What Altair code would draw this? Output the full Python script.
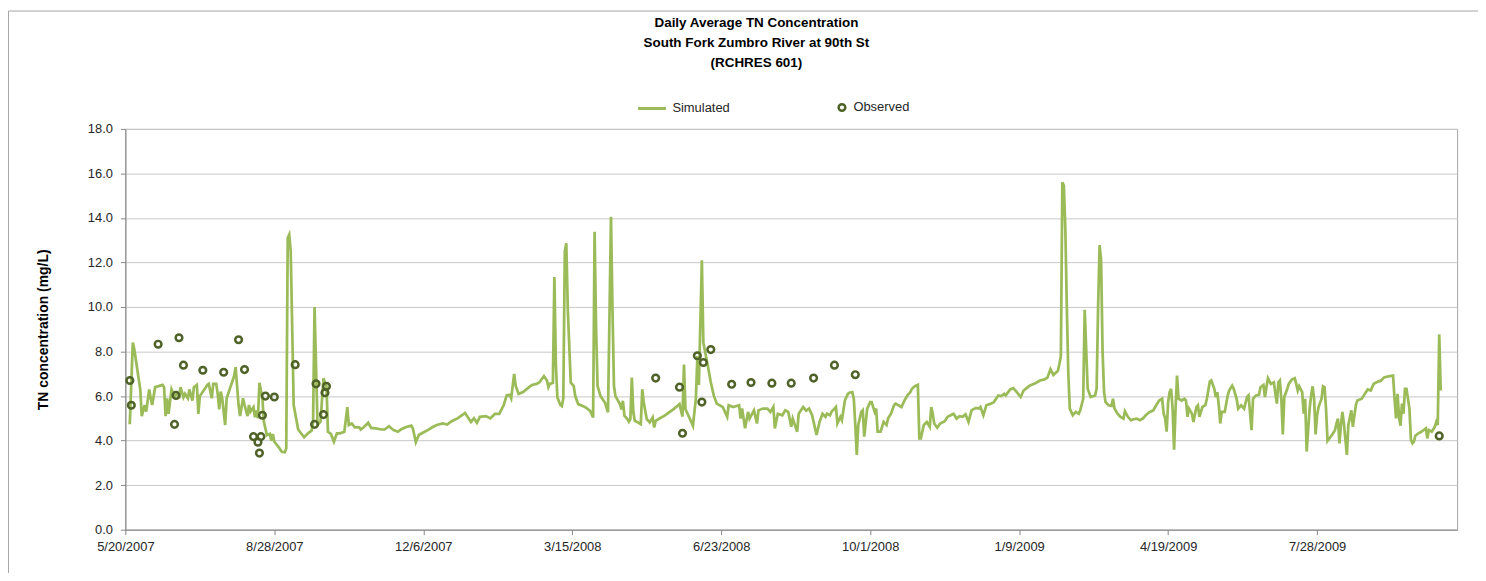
import altair as alt
import pandas as pd

# ---------------- data ----------------
START = "2007-05-20"

# (days after 5/20/2007, TN mg/L)
simulated = [
    (2, 4.8), (3, 4.8), (5, 8.4), (6, 8.1), (8, 7.2), (10, 6.3), (11, 5.1), (13, 5.6), (14, 5.3), (16, 6.3),
    (17, 5.9), (18, 5.6), (20, 6.4), (25, 6.5), (26, 6.4), (27, 5.1), (28, 5.9), (29, 5.2), (31, 6.3), (33, 6.0),
    (35, 6.1), (36, 5.9), (37, 6.4), (39, 5.95), (40, 6.1), (42, 5.9), (43, 6.3), (45, 5.8), (46, 6.4), (48, 6.5),
    (49, 5.2), (50, 6.0), (53, 6.3), (55, 6.5), (56, 6.55), (58, 5.9), (59, 6.55), (61, 6.55), (62, 6.1), (63, 5.4),
    (64, 6.2), (65, 5.9), (67, 4.7), (68, 5.9), (70, 6.3), (73, 6.9), (74, 7.3), (76, 5.6), (77, 5.1), (79, 5.9),
    (80, 5.6), (82, 5.1), (83, 5.6), (84, 5.3), (86, 5.5), (87, 5.05), (88, 5.35), (89, 5.0), (90, 6.6), (92, 5.9),
    (93, 4.85), (94, 4.55), (95, 4.25), (97, 4.3), (98, 4.0), (99, 4.3), (100, 3.95), (103, 3.7), (105, 3.5), (107, 3.48),
    (108, 3.65), (109, 13.1), (110, 13.25), (111, 12.5), (113, 5.6), (116, 4.5), (120, 4.15), (123, 4.35), (125, 4.45), (126, 4.8),
    (127, 10.0), (129, 4.7), (131, 4.85), (133, 6.8), (134, 6.6), (135, 6.45), (136, 4.4), (138, 4.3), (140, 3.95), (142, 4.33),
    (144, 4.33), (147, 4.4), (149, 5.5), (150, 4.7), (152, 4.77), (154, 4.6), (157, 4.6), (158, 4.5), (160, 4.6), (163, 4.8),
    (165, 4.57), (168, 4.55), (172, 4.5), (174, 4.5), (177, 4.65), (180, 4.47), (183, 4.4), (185, 4.5), (188, 4.6), (192, 4.67),
    (193, 4.55), (195, 3.93), (197, 4.25), (199, 4.33), (203, 4.47), (206, 4.6), (209, 4.7), (213, 4.77), (216, 4.72), (219, 4.87),
    (223, 5.0), (226, 5.14), (228, 5.24), (232, 4.84), (234, 5.0), (236, 4.8), (238, 5.07), (242, 5.1), (245, 5.0), (248, 5.2),
    (251, 5.2), (254, 5.6), (256, 6.03), (258, 6.06), (259, 5.9), (261, 7.0), (262, 6.47), (264, 6.1), (267, 6.18), (271, 6.4),
    (273, 6.5), (276, 6.55), (278, 6.62), (281, 6.9), (283, 6.7), (284, 6.4), (285, 6.55), (287, 6.6), (288, 11.35), (289, 7.4),
    (290, 5.95), (292, 5.6), (293, 5.55), (294, 5.9), (295, 12.5), (296, 12.86), (297, 9.9), (299, 6.6), (301, 6.45), (302, 6.0),
    (304, 5.64), (307, 5.56), (309, 5.49), (312, 5.34), (314, 5.04), (315, 13.38), (316, 9.0), (317, 6.45), (319, 6.0), (322, 5.7),
    (324, 5.27), (326, 14.05), (327, 9.9), (328, 6.45), (329, 6.0), (332, 5.64), (333, 5.4), (334, 5.79), (335, 5.12), (337, 4.97),
    (338, 4.85), (339, 4.97), (340, 6.83), (341, 5.27), (342, 4.89), (344, 4.82), (346, 4.74), (347, 6.31), (348, 5.71), (350, 4.97),
    (352, 4.82), (354, 5.04), (355, 4.59), (356, 4.89), (358, 4.97), (362, 5.12), (365, 5.27), (368, 5.41), (372, 5.64), (374, 5.08),
    (375, 7.42), (376, 5.41), (378, 5.12), (381, 4.67), (383, 5.9), (384, 7.8), (385, 6.5), (387, 12.1), (388, 8.4), (391, 7.36),
    (393, 6.62), (395, 6.03), (397, 5.66), (401, 5.51), (404, 5.07), (405, 5.59), (408, 5.51), (412, 5.59), (413, 4.99), (414, 5.44),
    (416, 4.55), (418, 5.29), (419, 4.99), (422, 5.36), (424, 4.77), (425, 5.36), (428, 5.44), (431, 5.44), (433, 5.29), (435, 5.51),
    (436, 4.55), (438, 5.21), (441, 5.14), (443, 5.36), (445, 5.29), (447, 4.62), (448, 4.99), (451, 4.4), (452, 5.21), (455, 5.51),
    (457, 5.35), (459, 5.44), (461, 5.14), (464, 4.25), (466, 4.84), (468, 5.21), (470, 5.07), (471, 5.21), (473, 5.14), (474, 5.29),
    (477, 5.51), (478, 4.77), (480, 5.07), (481, 4.92), (483, 5.8), (485, 6.1), (486, 6.15), (488, 6.18), (489, 5.88), (490, 4.7),
    (491, 3.36), (492, 4.7), (494, 5.29), (495, 5.36), (496, 4.18), (498, 5.44), (500, 5.73), (501, 5.73), (503, 5.29), (504, 5.44),
    (505, 4.4), (507, 4.4), (509, 4.84), (511, 4.7), (512, 5.0), (514, 5.21), (516, 5.59), (517, 5.66), (519, 5.59), (521, 5.51),
    (523, 5.8), (525, 6.03), (527, 6.18), (528, 6.33), (530, 6.44), (532, 6.5), (533, 4.1), (534, 4.1), (536, 4.7), (538, 4.84),
    (540, 4.62), (541, 5.51), (542, 5.21), (543, 4.77), (545, 4.58), (547, 4.77), (550, 4.87), (552, 5.07), (554, 5.14), (556, 5.21),
    (558, 4.99), (560, 5.1), (562, 5.07), (564, 5.18), (566, 4.84), (568, 5.36), (571, 5.47), (573, 5.44), (574, 5.51), (576, 5.14),
    (578, 5.59), (581, 5.66), (583, 5.73), (586, 6.03), (588, 6.0), (590, 6.1), (591, 6.03), (594, 6.3), (596, 6.36), (598, 6.21),
    (601, 5.96), (603, 6.25), (605, 6.36), (607, 6.47), (610, 6.55), (612, 6.62), (614, 6.7), (617, 6.75), (619, 6.83), (621, 7.21),
    (623, 6.95), (626, 7.14), (627, 7.44), (628, 7.8), (629, 15.6), (630, 15.45), (631, 13.5), (632, 10.0), (633, 7.0), (634, 5.44),
    (636, 5.14), (638, 5.29), (640, 5.21), (641, 5.36), (643, 5.88), (644, 9.88), (646, 6.33), (648, 5.96), (651, 6.03), (652, 6.33),
    (653, 10.0), (654, 12.78), (655, 12.1), (656, 8.0), (657, 6.18), (658, 5.73), (660, 5.59), (662, 5.56), (663, 5.88), (664, 5.44),
    (666, 5.21), (668, 5.07), (670, 4.99), (671, 5.32), (673, 5.07), (675, 4.92), (677, 4.96), (679, 4.99), (681, 4.92), (683, 4.99),
    (685, 5.14), (687, 5.26), (690, 5.36), (692, 5.59), (694, 5.8), (696, 5.88), (697, 5.21), (698, 5.0), (699, 4.4), (700, 5.73),
    (701, 6.18), (702, 6.33), (703, 5.44), (704, 3.59), (705, 5.44), (706, 6.92), (707, 5.88), (709, 5.8), (711, 5.88), (712, 5.8),
    (713, 5.07), (714, 5.44), (716, 5.21), (717, 4.84), (719, 5.51), (720, 5.59), (721, 5.07), (723, 5.51), (725, 5.59), (726, 5.88),
    (728, 6.65), (729, 6.7), (731, 6.33), (732, 5.96), (733, 6.18), (734, 5.59), (735, 4.77), (736, 5.29), (738, 5.29), (740, 6.03),
    (741, 6.25), (743, 6.47), (744, 6.33), (746, 5.88), (747, 5.44), (749, 5.59), (751, 5.44), (753, 5.96), (754, 6.03), (756, 4.47),
    (757, 5.88), (759, 6.03), (761, 6.06), (762, 6.4), (764, 6.5), (765, 5.96), (766, 6.4), (767, 6.8), (769, 6.55), (771, 6.62),
    (772, 6.1), (773, 5.66), (774, 6.62), (775, 6.7), (776, 5.88), (777, 4.28), (778, 5.96), (780, 6.33), (781, 6.55), (783, 6.74),
    (785, 6.8), (786, 6.55), (787, 6.25), (788, 6.44), (790, 6.18), (791, 5.21), (792, 5.88), (793, 3.51), (795, 5.44), (796, 6.03),
    (797, 6.44), (798, 5.88), (799, 4.28), (800, 5.14), (801, 5.51), (803, 5.88), (804, 6.44), (805, 6.4), (806, 5.44), (807, 3.99),
    (810, 4.25), (812, 4.47), (813, 4.77), (814, 4.99), (815, 3.88), (816, 4.7), (817, 5.29), (818, 4.77), (820, 3.36), (821, 4.7),
    (823, 5.36), (824, 4.62), (826, 5.59), (827, 5.8), (830, 5.88), (832, 6.1), (834, 6.3), (836, 6.25), (838, 6.55), (841, 6.65),
    (843, 6.7), (845, 6.84), (848, 6.89), (851, 6.92), (852, 5.88), (853, 5.0), (854, 6.1), (855, 5.07), (856, 4.67), (857, 5.66),
    (858, 5.21), (859, 6.33), (860, 6.33), (862, 5.44), (863, 4.03), (864, 3.88), (865, 3.96), (866, 4.22), (868, 4.33), (870, 4.4),
    (872, 4.5), (873, 4.55), (874, 4.1), (875, 4.47), (877, 4.4), (879, 4.62), (880, 4.84), (881, 4.7), (882, 8.77), (883, 6.25),
]

observed = [
    (3, 6.70), (4, 5.59), (22, 8.33), (33, 4.73), (34, 6.03), (36, 8.62), (39, 7.39), (52, 7.16),
    (66, 7.07), (76, 8.53), (80, 7.19), (86, 4.18), (89, 3.93), (90, 3.44), (91, 4.18), (92, 5.14),
    (94, 6.00), (100, 5.96), (114, 7.41), (127, 4.73), (128, 6.55), (133, 5.17), (134, 6.15), (135, 6.44),
    (356, 6.81), (372, 6.40), (374, 4.33), (384, 7.81), (387, 5.73), (388, 7.51), (393, 8.09), (407, 6.53),
    (420, 6.61), (434, 6.58), (447, 6.58), (462, 6.81), (476, 7.39), (490, 6.96), (882, 4.21),
]

x_tick_labels = ["5/20/2007", "8/28/2007", "12/6/2007", "3/15/2008", "6/23/2008",
                 "10/1/2008", "1/9/2009", "4/19/2009", "7/28/2009"]
x_domain = ["5/20/2007", "10/30/2009"]
y_ticks = [0, 2, 4, 6, 8, 10, 12, 14, 16, 18]

title_lines = ["Daily Average TN Concentration",
               "South Fork Zumbro River at 90th St",
               "(RCHRES 601)"]

# ---------------- build tables ----------------
base = pd.Timestamp(START)
sim_df = pd.DataFrame({
    "date": [base + pd.Timedelta(days=d) for d, _ in simulated],
    "tn": [v for _, v in simulated],
    "series": "Simulated",
})
obs_df = pd.DataFrame({
    "date": [base + pd.Timedelta(days=d) for d, _ in observed],
    "tn": [v for _, v in observed],
    "series": "Observed",
})


def to_dt(s):
    t = pd.to_datetime(s, format="%m/%d/%Y")
    return alt.DateTime(year=t.year, month=t.month, date=t.day)


FONT = "Liberation Sans, Arial, sans-serif"
GREEN = "#9BBB59"
DARK = "#4F6228"
AXIS_GREY = "#868686"
W, H = 1339, 403

x_enc = alt.X(
    "date:T",
    scale=alt.Scale(domain=[to_dt(s) for s in x_domain], nice=False),
    axis=alt.Axis(
        values=[to_dt(s) for s in x_tick_labels],
        format="%-m/%-d/%Y",
        title=None,
        grid=False,
        labelFont=FONT,
        labelFontSize=13,
        labelColor="#262626",
        labelPadding=6,
        labelFlush=False,
        labelOverlap=False,
        tickSize=5,
        tickColor=AXIS_GREY,
        domainColor=AXIS_GREY,
    ),
)
y_enc = alt.Y(
    "tn:Q",
    scale=alt.Scale(domain=[0, 18], nice=False),
    axis=alt.Axis(
        values=y_ticks,
        format=".1f",
        title="TN concentration (mg/L)",
        titleFont=FONT,
        titleFontSize=14,
        titleFontWeight="bold",
        titleColor="#000000",
        titlePadding=37,
        labelFont=FONT,
        labelFontSize=13,
        labelColor="#262626",
        labelPadding=8,
        tickSize=5,
        tickColor=AXIS_GREY,
        domainColor=AXIS_GREY,
        gridColor="#c8c8c8",
        gridWidth=1,
    ),
)

# light chart-area frame (top and left edges, as in the Excel chart)
frame_src = alt.Chart(pd.DataFrame({"k": [0]}))
frame_top = frame_src.mark_rule(stroke="#a6a6a6", strokeWidth=1).encode(
    x=alt.value(-117.5), x2=alt.value(W + 200), y=alt.value(-118.5),
)
frame_left = frame_src.mark_rule(stroke="#a6a6a6", strokeWidth=1).encode(
    x=alt.value(-117.5), y=alt.value(-118.5), y2=alt.value(H + 200),
)

line = alt.Chart(sim_df).mark_line(strokeWidth=2.75).encode(
    x=x_enc,
    y=y_enc,
    color=alt.Color(
        "series:N",
        scale=alt.Scale(domain=["Simulated"], range=[GREEN]),
        legend=alt.Legend(
            title=None, orient="none", legendX=514, legendY=-36,
            symbolType="stroke", symbolSize=784, symbolStrokeWidth=3,
            labelFont=FONT, labelFontSize=13, labelColor="#262626",
            labelOffset=5, padding=0,
        ),
    ),
)

points = alt.Chart(obs_df).mark_point(filled=False, size=45, strokeWidth=2.5, opacity=1).encode(
    x=x_enc,
    y=y_enc,
    color=alt.Color(
        "series:N",
        scale=alt.Scale(domain=["Observed"], range=[DARK]),
        legend=alt.Legend(
            title=None, orient="none", legendX=714, legendY=-28,
            symbolType="circle", symbolSize=45, symbolStrokeWidth=2.5,
            labelFont=FONT, labelFontSize=13, labelColor="#262626",
            labelOffset=5, padding=0,
        ),
    ),
)

chart = (
    alt.layer(frame_top, frame_left, line, points)
    .resolve_scale(color="independent")
    .properties(
        width=W,
        height=H,
        autosize=alt.AutoSizeParams(type="none"),
        padding={"left": 118, "top": 120, "right": 21, "bottom": 42},
        title=alt.TitleParams(
            text=title_lines,
            anchor="middle",
            dx=-35,
            offset=-59,
            font=FONT,
            fontSize=13.5,
            fontWeight="bold",
            lineHeight=20,
            color="#000000",
        ),
    )
    .configure_view(stroke="#a6a6a6", strokeWidth=1)
)

chart.save("out.html", embed_options={"renderer": "svg", "actions": False})
